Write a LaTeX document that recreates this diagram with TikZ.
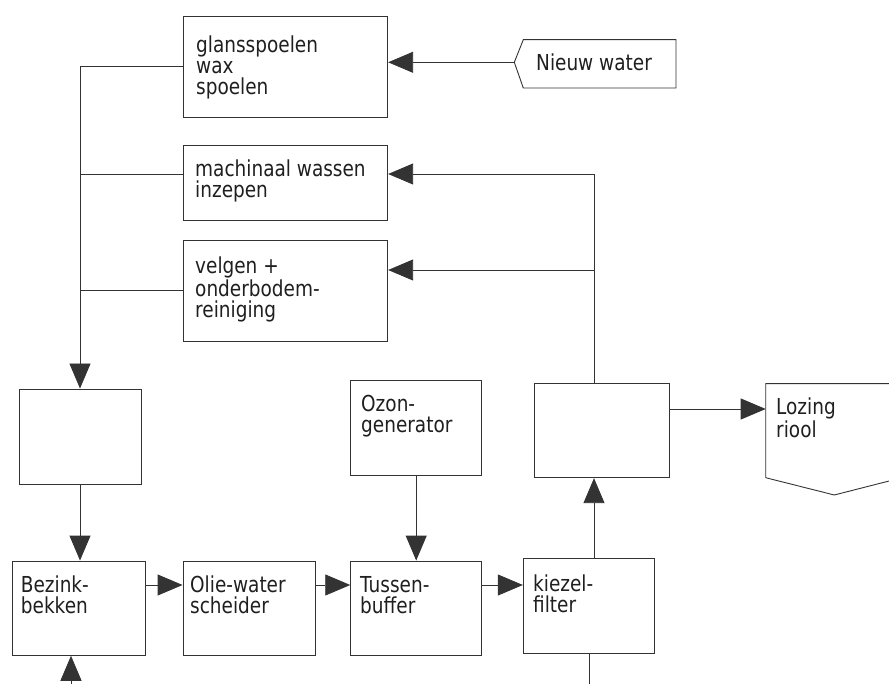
\documentclass[tikz,border=0pt]{standalone}
\usepackage{fontspec}
\setmainfont{DejaVu Sans}[FakeStretch=0.84]
\usetikzlibrary{arrows.meta,fit}
\newcommand\ascstrut{\rule{0pt}{16.5pt}}
\begin{document}
\begin{tikzpicture}[x=1pt,y=-1pt,
  ink/.style={draw=black!80, line width=0.9pt},
  box/.style={ink, rectangle, inner sep=0pt},
  lbl/.style={anchor=north west, inner sep=0pt, align=left, text=black!88,
    font=\fontsize{22}{21}\selectfont},
  flow/.style={ink, -{Triangle[length=25pt,width=21pt]}},
  wire/.style={ink}
]
\useasboundingbox (0,0) rectangle (889,684);
\fill[white] (0,0) rectangle (889,684);
\clip (0,0) rectangle (889,684);

% process boxes
\node[box, fit={(183,16.7) (387.7,117)}]   (glans) {};
\node[box, fit={(183,145) (387.7,220)}]    (mach)  {};
\node[box, fit={(183,240) (387.7,341.7)}]  (velg)  {};
\node[box, fit={(19,389) (141,484.3)}]     (zl)    {};
\node[box, fit={(12.3,561) (145,655.3)}]   (bez)   {};
\node[box, fit={(183,561) (315.3,655.3)}]  (olie)  {};
\node[box, fit={(350.7,561) (481.7,655.3)}] (tus)  {};
\node[box, fit={(350.7,380.3) (481.7,475.3)}] (ozon) {};
\node[box, fit={(523.3,558.3) (654.3,653)}] (kie)  {};
\node[box, fit={(534.7,383.7) (669.7,477.7)}] (zr) {};

% labels
\node[lbl] (glans-t) at (196,35.5)  {\ascstrut glansspoelen\\wax\\spoelen};
\node[lbl] (mach-t)  at (195,159.5) {\ascstrut machinaal wassen\\inzepen};
\node[lbl] (velg-t)  at (195,256.8) {\ascstrut velgen +\\onderbodem-\\reiniging};
\node[lbl] (bez-t)   at (20.7,575.5) {\ascstrut Bezink-\\bekken};
\node[lbl] (olie-t)  at (190,575.5) {\ascstrut Olie-water\\scheider};
\node[lbl] (tus-t)   at (360,575.5) {\ascstrut Tussen-\\buffer};
\node[lbl] (ozon-t)  at (361,395)   {\ascstrut Ozon-\\generator};
\node[lbl] (kie-t)   at (533,575)   {\ascstrut kiezel-\\filter};
\node[lbl] (loz-t)   at (776,398)   {\ascstrut Lozing\\riool};
\node[lbl] (nieuw-t) at (536,53.5)  {\ascstrut Nieuw water};

% off-page connectors
\coordinate (nieuw) at (514.3,62.3);
\draw[ink] (nieuw) -- (523.3,39.7) -- (676,39.7) -- (676,88) -- (523.3,88) -- cycle;
\coordinate (loz) at (765.7,409);
\draw[ink] (902,383.7) -- (765.7,383.7) -- (765.7,477.7) -- (834.3,495) -- (902,477.7);

% helper coordinates for the wiring
\coordinate (busx) at (80,0);
\coordinate (mrow) at (0,174);
\coordinate (vrow) at (0,270);
\coordinate (row)  at (0,585);
\coordinate (col)  at (594,0);
\coordinate (bin)  at (71,700);
\coordinate (kout) at (589.7,700);

% fresh water in
\draw[flow] (nieuw) -- (nieuw -| glans.east);

% collecting bus on the left
\draw[flow] (glans.west) -- (glans.west -| busx) -- (busx |- zl.north);
\draw[wire] (mach.west |- mrow) -- (busx |- mrow);
\draw[wire] (velg.west) -- (velg.west -| busx);
\draw[flow] (zl.south) -- (zl.south |- bez.north);

% treatment line
\draw[flow] (bez.east |- row) -- (olie.west |- row);
\draw[flow] (olie.east |- row) -- (tus.west |- row);
\draw[flow] (tus.east |- row) -- (kie.west |- row);
\draw[flow] (ozon.south) -- (tus.north);
\draw[flow] (kie.north -| col) -- (zr.south -| col);

% recycled water back to the wash stages
\draw[flow] (zr.north -| col) -- (col |- mrow) -- (mach.east |- mrow);
\draw[flow] (col |- vrow) -- (velg.east |- vrow);

% discharge
\draw[flow] (zr.east |- loz) -- (loz);

% lines leaving the bottom edge
\draw[flow] (bin) -- (bin |- bez.south);
\draw[wire] (kie.south -| kout) -- (kout);
\end{tikzpicture}
\end{document}
